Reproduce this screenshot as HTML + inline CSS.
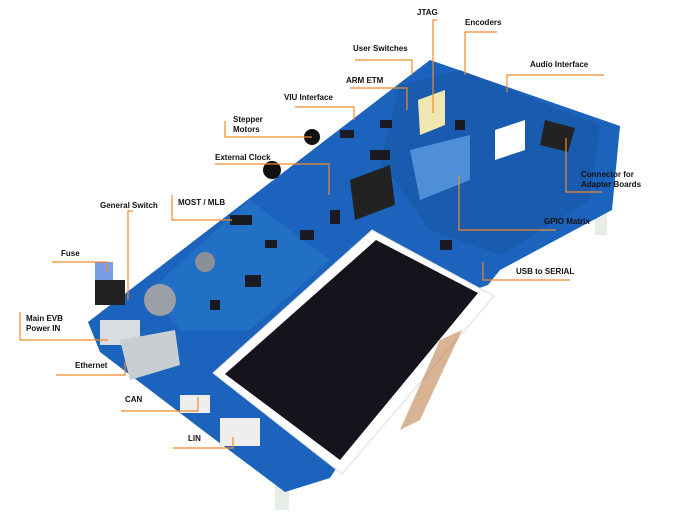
<!DOCTYPE html>
<html><head><style>
html,body{margin:0;padding:0;background:#fff;}
svg{display:block}
text{font-family:"Liberation Sans",sans-serif;font-size:8px;font-weight:bold;fill:#111}
</style></head><body>
<svg width="674" height="516" viewBox="0 0 674 516">
<!-- standoffs -->
<rect x="275" y="470" width="14" height="40" fill="#e6ece6"/>
<rect x="595" y="190" width="12" height="45" fill="#e6ece6"/>
<!-- board -->
<polygon points="88,322 430,60 620,126 612,210 500,270 488,285 445,300 330,478 285,492 205,432 100,352" fill="#1b63bc"/>
<polygon points="400,85 460,70 600,125 590,200 500,255 430,230 380,160" fill="#1858a8" opacity="0.7"/>
<polygon points="150,290 250,200 330,260 250,330 180,330" fill="#2a7cd0" opacity="0.5"/>
<!-- dotted matrix -->
<polygon points="410,150 470,135 470,180 420,200" fill="#4f8fd8"/>
<!-- small components -->
<g fill="#1a1a22">
<rect x="230" y="215" width="22" height="10"/><rect x="265" y="240" width="12" height="8"/><rect x="300" y="230" width="14" height="10"/>
<rect x="245" y="275" width="16" height="12"/><rect x="210" y="300" width="10" height="10"/><rect x="330" y="210" width="10" height="14"/>
<rect x="370" y="150" width="20" height="10"/><rect x="340" y="130" width="14" height="8"/><rect x="440" y="240" width="12" height="10"/>
<rect x="380" y="120" width="12" height="8"/><rect x="455" y="120" width="10" height="10"/>
</g>
<!-- connectors -->
<polygon points="418,100 445,90 445,125 420,135" fill="#f2e6b0"/>
<polygon points="495,130 525,120 525,150 495,160" fill="#fff"/>
<polygon points="545,120 575,128 568,152 540,145" fill="#222"/>
<polygon points="350,180 390,165 395,205 355,220" fill="#222"/>
<circle cx="272" cy="170" r="9" fill="#111"/>
<circle cx="312" cy="137" r="8" fill="#111"/>
<!-- left components -->
<rect x="95" y="262" width="18" height="18" fill="#7a9de6"/>
<rect x="95" y="280" width="30" height="25" fill="#222"/>
<circle cx="160" cy="300" r="16" fill="#9aa0a6"/>
<circle cx="205" cy="262" r="10" fill="#8a9096"/>
<rect x="100" y="320" width="40" height="25" fill="#d9dde0"/>
<polygon points="120,340 175,330 180,365 130,380" fill="#c9ced2"/>
<rect x="180" y="395" width="30" height="18" fill="#eee"/>
<rect x="220" y="418" width="40" height="28" fill="#eee"/>
<!-- screen -->
<polygon points="372,230 494,296 342,474 213,373" fill="#fff" stroke="#ddd"/>
<polygon points="376,240 478,293 340,460 225,374" fill="#17131c"/>
<polygon points="440,340 462,330 420,420 400,430" fill="#b26a2a" opacity="0.5"/>
<!-- leader lines -->
<g stroke="#f08a2a" stroke-width="1.2" fill="none">
<polyline points="437,20 433,20 433,113"/>
<polyline points="497,32 465,32 465,75"/>
<polyline points="355,60 412,60 412,75"/>
<polyline points="350,88 407,88 407,110"/>
<polyline points="295,107 354,107 354,120"/>
<polyline points="225,121 225,137 312,137"/>
<polyline points="215,164 329,164 329,195"/>
<polyline points="604,75 507,75 507,92"/>
<polyline points="566,138 566,192 602,192"/>
<polyline points="459,175 459,230 556,230"/>
<polyline points="483,262 483,280 570,280"/>
<polyline points="133,211 128,211 128,300"/>
<polyline points="172,195 172,220 232,220"/>
<polyline points="52,262 107,262 107,272"/>
<polyline points="20,312 20,340 108,340"/>
<polyline points="56,375 125,375 125,362"/>
<polyline points="121,411 198,411 198,397"/>
<polyline points="173,448 233,448 233,437"/>
</g>
<!-- labels -->
<text x="417" y="15">JTAG</text>
<text x="465" y="25">Encoders</text>
<text x="353" y="51">User Switches</text>
<text x="346" y="83">ARM ETM</text>
<text x="284" y="100">VIU Interface</text>
<text x="233" y="122">Stepper</text>
<text x="233" y="132">Motors</text>
<text x="215" y="160">External Clock</text>
<text x="530" y="67">Audio Interface</text>
<text x="581" y="177">Connector for</text>
<text x="581" y="187">Adapter Boards</text>
<text x="544" y="224">GPIO Matrix</text>
<text x="516" y="274">USB to SERIAL</text>
<text x="100" y="208">General Switch</text>
<text x="178" y="205">MOST / MLB</text>
<text x="61" y="256">Fuse</text>
<text x="26" y="321">Main EVB</text>
<text x="26" y="331">Power IN</text>
<text x="75" y="368">Ethernet</text>
<text x="125" y="402">CAN</text>
<text x="188" y="441">LIN</text>
</svg>
</body></html>
